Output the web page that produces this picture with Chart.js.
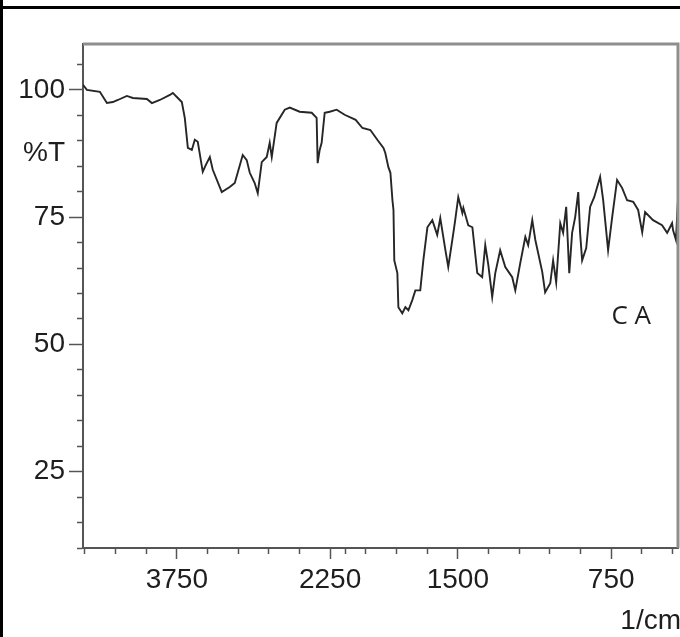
<!DOCTYPE html>
<html>
<head>
<meta charset="utf-8">
<script src="https://cdn.jsdelivr.net/npm/chart.js@4.4.1/dist/chart.umd.min.js"></script>
<style>
  html, body { margin: 0; padding: 0; background: #fff; }
  #wrap { position: relative; width: 680px; height: 637px; }
</style>
</head>
<body>
<div id="wrap"><canvas id="irChart" width="680" height="637"></canvas></div>
<script>
// --- data (wavenumber in 1/cm, transmittance in %) ---
const wavenumbers = [
  4668, 4630, 4503, 4434, 4376, 4327, 4239, 4180, 4043, 3994, 3916, 3818, 3789, 3740, 3701,
  3672, 3642, 3603, 3574, 3545, 3496, 3467, 3427, 3398, 3310, 3232, 3183, 3105, 3066, 3036,
  2988, 2958, 2919, 2870, 2841, 2821, 2773, 2694, 2645, 2548, 2430, 2382, 2372, 2352, 2333,
  2303, 2254, 2186, 2108, 2000, 1967, 1928, 1894, 1864, 1855, 1840, 1830, 1820, 1815, 1811,
  1796, 1791, 1772, 1757, 1742, 1723, 1708, 1684, 1669, 1649, 1625, 1601, 1586, 1561, 1547,
  1522, 1513, 1498, 1478, 1473, 1449, 1429, 1405, 1381, 1366, 1351, 1332, 1317, 1293, 1268,
  1234, 1219, 1195, 1170, 1156, 1136, 1121, 1087, 1073, 1048, 1034, 1019, 999, 985, 970,
  955, 941, 926, 911, 902, 892, 872, 853, 833, 804, 789, 765, 745, 721, 696,
  672, 642, 618, 598, 584, 545, 501, 476, 452, 447, 433, 424
];
const transmittance = [
  101.0, 100.0, 99.6, 97.4, 97.6, 98.0, 98.8, 98.4, 98.2, 97.4, 98.0, 99.0, 99.4, 98.4, 97.6,
  94.5, 88.6, 88.2, 90.2, 89.8, 83.9, 85.2, 86.8, 84.3, 79.9, 80.9, 81.7, 87.2, 86.2, 83.7,
  81.7, 79.7, 85.8, 86.8, 89.6, 86.8, 93.5, 96.1, 96.5, 95.7, 95.5, 94.5, 85.6, 88.2, 89.6,
  95.5, 95.7, 96.1, 95.1, 94.1, 92.5, 92.1, 90.2, 88.6, 87.6, 84.8, 83.7, 78.3, 76.4, 66.5,
  64.0, 57.3, 56.1, 57.3, 56.7, 58.7, 60.6, 60.6, 66.5, 73.0, 74.4, 71.5, 74.8, 68.5, 65.2,
  71.9, 74.4, 78.9, 75.8, 76.8, 73.4, 73.0, 64.0, 63.2, 69.5, 65.6, 59.3, 64.0, 68.5, 65.2,
  63.2, 60.6, 65.9, 71.1, 69.5, 74.4, 70.5, 64.2, 60.2, 62.0, 66.5, 62.2, 73.8, 71.9, 77.0,
  64.0, 71.9, 75.0, 79.9, 71.9, 66.5, 68.9, 77.0, 78.9, 82.9, 78.3, 68.5, 75.0, 82.3, 80.7,
  78.3, 78.0, 76.4, 72.0, 76.0, 74.4, 73.4, 71.9, 73.8, 72.4, 70.5, 77.8
];

const xTickValues = [4650, 4350, 4050, 3750, 3450, 3150, 2850, 2550, 2250, 2100, 1950, 1800,
  1650, 1500, 1350, 1200, 1050, 900, 750, 600, 450];
const xTickLabels = [3750, 2250, 1500, 750];
const yTickValues = [10, 15, 20, 25, 30, 35, 40, 45, 50, 55, 60, 65, 70, 75, 80, 85, 90, 95, 100, 105];
const yTickLabels = [100, 75, 50, 25];

const sampleName = 'C A';
const yUnit = '%T';
const xUnit = '1/cm';

// above 2000 1/cm the axis runs at half scale (like the instrument printout)
const BREAK = 2000;
const toAxis = w => (w <= BREAK ? w : BREAK + (w - BREAK) / 2);
const fromAxis = u => (u <= BREAK ? u : BREAK + (u - BREAK) * 2);

const LABEL_FONT = { family: '"Liberation Sans", Arial, sans-serif', size: 28 };
const INK = '#1e1e1e';

const isMajorX = v => xTickLabels.includes(Math.round(fromAxis(v)));
const isMajorY = v => yTickLabels.includes(v);

const framePlugin = {
    id: 'frame',
    beforeDraw(chart) {
        const ctx = chart.ctx;
        ctx.save();
        ctx.fillStyle = '#fff';
        ctx.fillRect(0, 0, chart.width, chart.height);
        // black cell border of the original scan
        ctx.fillStyle = '#000';
        ctx.fillRect(0, 0, 3, chart.height);
        ctx.fillRect(0, 6, chart.width, 3);
        ctx.restore();
    },
    afterDraw(chart) {
        const { ctx, chartArea: a, scales } = chart;
        ctx.save();
        ctx.strokeStyle = '#8e8e8e';
        ctx.lineWidth = 3;
        ctx.beginPath();
        ctx.moveTo(a.left, a.top);
        ctx.lineTo(a.right, a.top);
        ctx.lineTo(a.right, a.bottom);
        ctx.stroke();

        ctx.fillStyle = INK;
        ctx.font = `${LABEL_FONT.size}px ${LABEL_FONT.family}`;
        ctx.textAlign = 'right';
        ctx.textBaseline = 'middle';
        ctx.fillText(yUnit, a.left - 18, scales.y.getPixelForValue(87.5));
        ctx.fillText(xUnit, 681, 621);

        ctx.font = '26px "Open Sans", sans-serif';
        ctx.textAlign = 'center';
        ctx.fillText(sampleName, scales.x.getPixelForValue(toAxis(652)), scales.y.getPixelForValue(55.5));
        ctx.restore();
    }
};

const points = wavenumbers.map((w, i) => ({ x: toAxis(w), y: transmittance[i] }));

new Chart(document.getElementById('irChart'), {
    type: 'line',
    data: {
        datasets: [{
            data: points,
            borderColor: '#262626',
            borderWidth: 1.9,
            pointRadius: 0,
            tension: 0,
            fill: false
        }]
    },
    options: {
        responsive: false,
        animation: false,
        devicePixelRatio: 1,
        layout: { padding: { top: 44, right: 2, left: 0, bottom: 0 } },
        plugins: {
            legend: { display: false },
            tooltip: { enabled: false }
        },
        scales: {
            x: {
                type: 'linear',
                reverse: true,
                min: toAxis(423),
                max: toAxis(4668),
                afterBuildTicks: axis => { axis.ticks = xTickValues.map(w => ({ value: toAxis(w) })); },
                afterFit: axis => { axis.height = 89; },
                border: { display: true, color: '#555', width: 2 },
                grid: {
                    drawOnChartArea: false,
                    tickLength: 11,
                    tickColor: '#555',
                    tickWidth: 1.5,
                    tickBorderDash: ctx => (isMajorX(ctx.tick.value) ? [] : [5, 40])
                },
                ticks: {
                    autoSkip: false,
                    maxRotation: 0,
                    minRotation: 0,
                    padding: 4,
                    color: INK,
                    font: LABEL_FONT,
                    callback: v => (isMajorX(v) ? String(Math.round(fromAxis(v))) : '')
                }
            },
            y: {
                min: 10,
                max: 109,
                afterBuildTicks: axis => { axis.ticks = yTickValues.map(v => ({ value: v })); },
                afterFit: axis => { axis.width = 83; },
                border: { display: true, color: '#555', width: 2 },
                grid: {
                    drawOnChartArea: false,
                    tickLength: 14,
                    tickColor: '#555',
                    tickWidth: 1.5,
                    tickBorderDash: ctx => (isMajorY(ctx.tick.value) ? [] : [0, 8, 6, 40])
                },
                ticks: {
                    autoSkip: false,
                    padding: 4,
                    color: INK,
                    font: LABEL_FONT,
                    callback: v => (isMajorY(v) ? String(v) : '')
                }
            }
        }
    },
    plugins: [framePlugin]
});
</script>
</body>
</html>
